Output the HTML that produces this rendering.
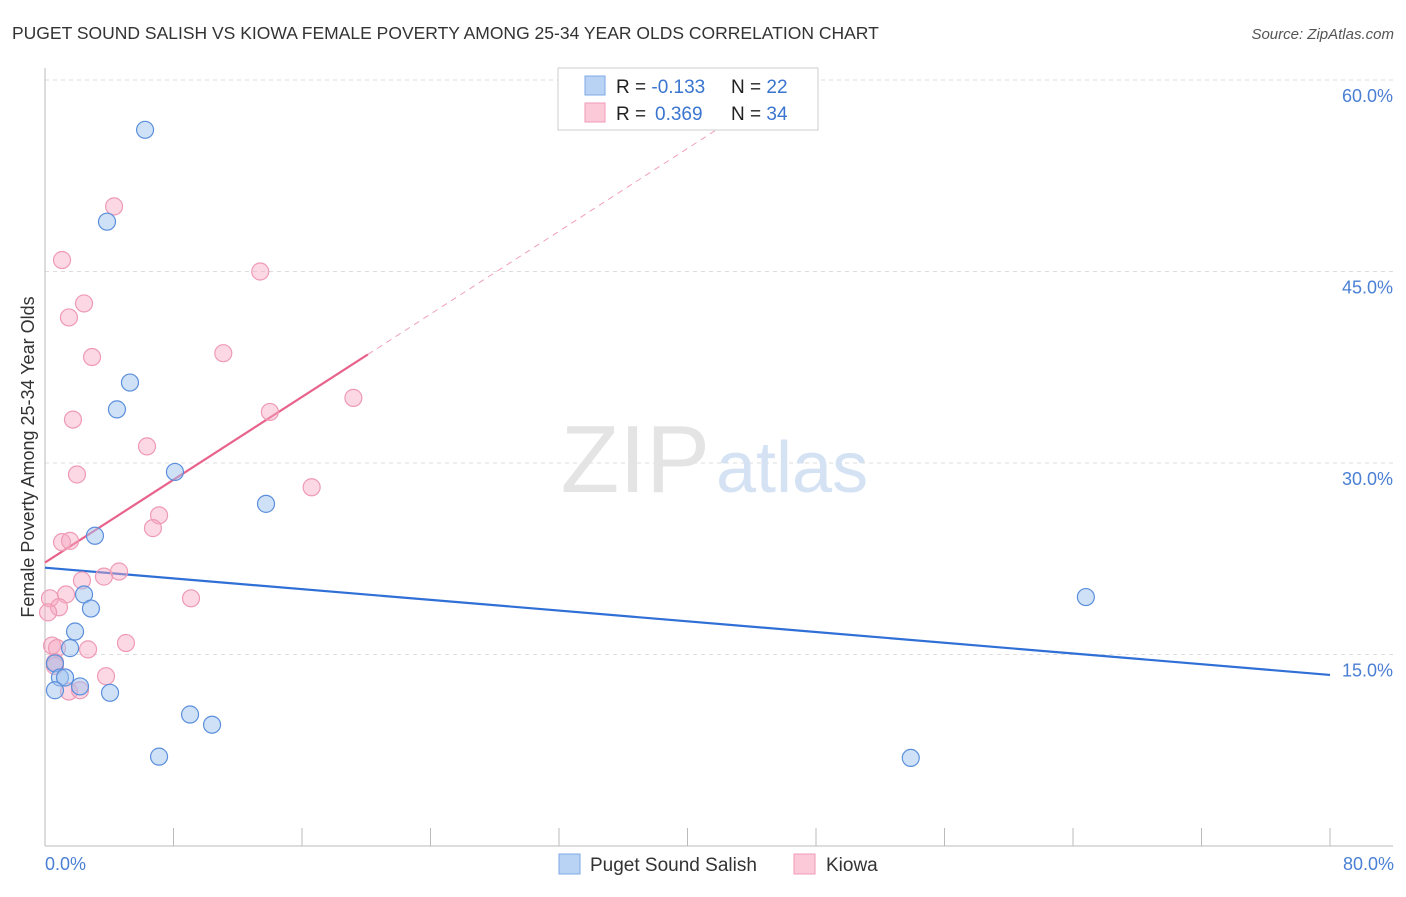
<!DOCTYPE html>
<html><head><meta charset="utf-8"><style>
body{margin:0;background:#fff;font-family:"Liberation Sans",sans-serif;}
svg text{font-family:"Liberation Sans",sans-serif;}
</style></head><body>
<svg width="1406" height="892" viewBox="0 0 1406 892" xmlns="http://www.w3.org/2000/svg">
<text x="12" y="39" font-size="17.5" fill="#333">PUGET SOUND SALISH VS KIOWA FEMALE POVERTY AMONG 25-34 YEAR OLDS CORRELATION CHART</text>
<text x="1394" y="39" font-size="15" fill="#555" font-style="italic" text-anchor="end">Source: ZipAtlas.com</text>
<g id="grid"></g>
<text x="710" y="492" font-size="96" fill="#e4e4e4" font-family="Liberation Serif" text-anchor="end">ZIP</text>
<text x="716" y="492" font-size="72" fill="#d4e2f4">atlas</text>
<line x1="45" y1="68" x2="45" y2="846" stroke="#bbb"/>
<line x1="45" y1="846" x2="1393" y2="846" stroke="#bbb"/>
<g id="xticks"></g>
<g id="ylabels"></g>
<text x="45" y="870" font-size="18" fill="#4a7fd4">0.0%</text>
<text x="1394" y="870" font-size="18" fill="#4a7fd4" text-anchor="end">80.0%</text>
<text transform="translate(34,457) rotate(-90)" font-size="18" fill="#333" text-anchor="middle">Female Poverty Among 25-34 Year Olds</text>
<g id="lines"></g>
<g id="points"></g>
<g>
<rect x="558" y="68" width="260" height="62" fill="#fff" stroke="#ccc"/>
<rect x="585" y="76" width="20" height="19" fill="#b9d3f5" stroke="#7ea9e6"/>
<rect x="585" y="103" width="20" height="19" fill="#fbc9d8" stroke="#f09ab6"/>
<text x="616" y="93" font-size="19" fill="#222">R = <tspan fill="#3a75d0">-0.133</tspan><tspan x="731">N = </tspan><tspan fill="#3a75d0">22</tspan></text>
<text x="616" y="120" font-size="19" fill="#222">R = <tspan fill="#3a75d0" x="655">0.369</tspan><tspan x="731">N = </tspan><tspan fill="#3a75d0">34</tspan></text>
</g>
<g>
<rect x="559" y="854" width="21" height="20" fill="#b9d3f5" stroke="#7ea9e6"/>
<text x="590" y="871" font-size="19" fill="#333">Puget Sound Salish</text>
<rect x="794" y="854" width="21" height="20" fill="#fbc9d8" stroke="#f09ab6"/>
<text x="826" y="871" font-size="19" fill="#333">Kiowa</text>
</g>
</svg>
<script>
const blueX=[6.23,3.86,5.29,4.48,8.09,13.76,3.11,2.43,2.86,1.87,1.56,0.62,0.93,1.25,2.18,0.62,4.05,9.03,10.4,7.10,53.9,64.8];
const blueY=[56.1,48.9,36.3,34.2,29.3,26.8,24.3,19.7,18.6,16.8,15.5,14.3,13.2,13.2,12.5,12.2,12.0,10.3,9.5,7.0,6.9,19.5];
const pinkX=[4.30,1.06,13.4,2.43,1.49,2.93,11.1,14.0,19.2,1.74,6.35,1.99,16.6,7.10,6.72,1.06,1.56,4.61,2.30,3.67,1.31,9.09,0.31,0.87,0.19,5.04,0.44,0.75,2.68,0.62,0.62,3.80,1.49,2.18];
const pinkY=[50.1,45.9,45.0,42.5,41.4,38.3,38.6,34.0,35.1,33.4,31.3,29.1,28.1,25.9,24.9,23.8,23.9,21.5,20.8,21.1,19.7,19.4,19.4,18.7,18.3,15.9,15.7,15.5,15.4,14.4,14.1,13.3,12.1,12.2];
const yTicks=[15,30,45,60];
const yTickLabels=["15.0%","30.0%","45.0%","60.0%"];
const xTicks=[0,8,16,24,32,40,48,56,64,72,80];
const blueTrend=[21.8,13.4];
const pinkTrend=[22.2,0.811];
const pinkSolidEnd=20.1, pinkDashEnd=44.6;
const NS="http://www.w3.org/2000/svg";
const sx=v=>45+v/80*1285;
const sy=v=>846-v/15*191.5;
function mk(t,a,p){const e=document.createElementNS(NS,t);for(const k in a)e.setAttribute(k,a[k]);p.appendChild(e);return e;}
const grid=document.getElementById('grid'),yl=document.getElementById('ylabels'),xt=document.getElementById('xticks');
yTicks.forEach((v,i)=>{
 const l=mk('line',{x1:45,x2:1393,y1:sy(v),y2:sy(v),stroke:'#ddd','stroke-dasharray':'4,4'},grid);
 
 
 const t=mk('text',{x:1393,y:sy(v)+22,'font-size':18,fill:'#4a7fd4','text-anchor':'end'},yl);
 t.textContent=yTickLabels[i];
 
 
});
xTicks.forEach(v=>{
 const l=mk('line',{x1:sx(v),x2:sx(v),y1:828,y2:846,stroke:'#bbb'},xt);
 
 
});
const lines=document.getElementById('lines');
let b=mk('line',{x1:sx(0),y1:sy(blueTrend[0]),x2:sx(80),y2:sy(blueTrend[1]),stroke:'#2f6fd6','stroke-width':2.2},lines);


const pf=x=>pinkTrend[0]+pinkTrend[1]*x;
let pd=mk('line',{x1:sx(pinkSolidEnd),y1:sy(pf(pinkSolidEnd)),x2:sx(pinkDashEnd),y2:sy(pf(pinkDashEnd)),stroke:'#f0a0b8','stroke-width':1,'stroke-dasharray':'6,5'},lines);


let ps=mk('line',{x1:sx(0),y1:sy(pf(0)),x2:sx(pinkSolidEnd),y2:sy(pf(pinkSolidEnd)),stroke:'#e8638c','stroke-width':2.2},lines);


const pts=document.getElementById('points');
pinkX.forEach((x,i)=>{
 const c=mk('circle',{cx:sx(x),cy:sy(pinkY[i]),r:8.5,fill:'rgba(246,168,192,0.45)',stroke:'#ef9ab5','stroke-width':1.2},pts);
 
 
});
blueX.forEach((x,i)=>{
 const c=mk('circle',{cx:sx(x),cy:sy(blueY[i]),r:8.5,fill:'rgba(160,196,240,0.5)',stroke:'#5b8fdc','stroke-width':1.2},pts);
 
 
});
</script>
</body></html>
